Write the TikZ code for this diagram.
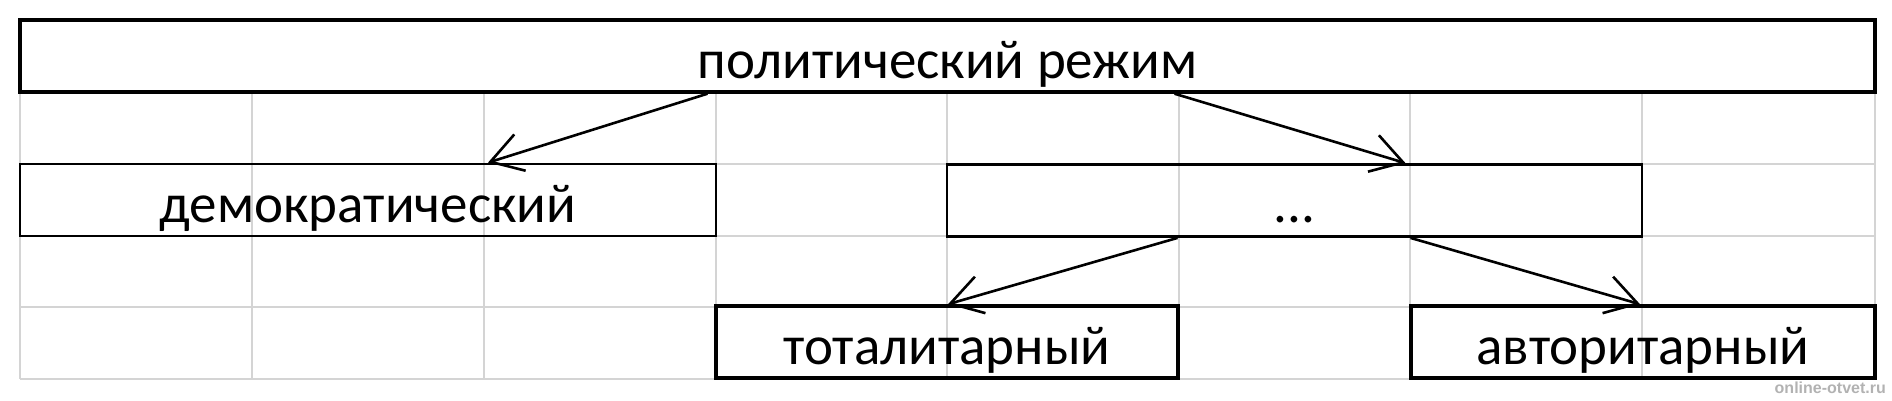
\documentclass[tikz,border=0pt]{standalone}
\usepackage{fontspec}
\setmainfont{Carlito}
\newfontfamily\wmfont{Liberation Sans}
\usetikzlibrary{arrows.meta}

\begin{document}
\begin{tikzpicture}[x=1pt, y=-1pt,
    cell/.style={draw=black!17, line width=2pt},
    regime/.style={draw, line width=2.8pt, inner sep=0pt, minimum height=72pt,
      text height=58pt, text depth=14pt, font=\fontsize{55}{60}\selectfont},
    arr/.style={line width=2.6pt, -{Straight Barb[length=31pt, width=38pt, line width=2.6pt]}},
    wmark/.style={inner sep=0pt, text=black!30, font=\wmfont\bfseries\fontsize{16}{18}\selectfont}]
    \useasboundingbox (0,0) rectangle (1892,400);
    \foreach \x in {20,252,484,716,947,1179,1410,1642,1875}
      \draw[cell] (\x,92) -- (\x,379);
    \foreach \y in {164,236,307,379}
      \draw[cell] (20,\y) -- (1875,\y);
    \node[regime, line width=3.4pt, minimum width=1855pt] (pol) at (947.5,56) {политический режим};
    \node[regime, minimum width=696pt] (dem) at (368,200) {демократический};
    \node[regime, minimum width=695pt] (dots) at (1294.5,200.5) {...};
    \node[regime, line width=3.6pt, minimum width=462pt] (tot) at (947,342) {тоталитарный};
    \node[regime, line width=3.6pt, minimum width=464pt] (avt) at (1643,342) {авторитарный};
    \node[wmark, anchor=south east] (wm) at (1886,394) {online-otvet.ru};
    \draw [arr] ([xshift=-240pt]pol.south) to ([xshift=120pt]dem.north);
    \draw [arr] ([xshift=227pt]pol.south) to ([xshift=111pt]dots.north);
    \draw [arr] ([xshift=-117pt]dots.south) to ([xshift=1pt]tot.north);
    \draw [arr] ([xshift=116pt]dots.south) to ([xshift=-3pt]avt.north);
  \end{tikzpicture}
\end{document}
